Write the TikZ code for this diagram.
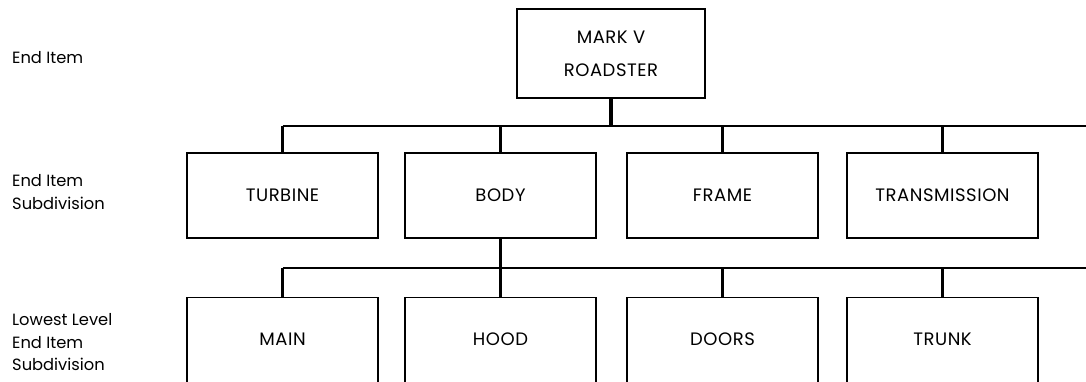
\documentclass[tikz,border=0pt]{standalone}
\usepackage{fontspec}
\setmainfont{Poppins}
\newfontfamily\boxfont[LetterSpace=3]{Poppins}
\begin{document}
\begin{tikzpicture}[x=1pt,y=-1pt,
  box/.style={draw,line width=1.2pt,minimum width=191pt,minimum height=85pt,inner sep=0pt,
    font=\boxfont\fontsize{18}{33}\selectfont},
  lowbox/.style={draw,line width=1.2pt,minimum width=191pt,inner sep=0pt,anchor=north,
    text height=48pt,text depth=55pt,font=\boxfont\fontsize{18}{33}\selectfont},
  conn/.style={line width=2pt},
  drop/.style={line width=2.6pt},
  lvl/.style={anchor=north west,inner sep=0pt,align=left,font=\fontsize{16.3}{22.8}\selectfont}]
\clip (0,0) rectangle (1086,381);
\fill[white] (0,0) rectangle (1086,381);
% level labels
\node[lvl] (l1) at (12,51) {End Item};
\node[lvl] (l2) at (12,174) {End Item\\Subdivision};
\node[lvl] (l3) at (12,313) {Lowest Level\\End Item\\Subdivision};
% boxes
\node[box,minimum width=188pt,minimum height=89pt,align=center] (top) at (611,53.5) {MARK V\\ROADSTER};
\node[box] (turbine) at (282.5,195.5) {TURBINE};
\node[box] (body) at (500.5,195.5) {BODY};
\node[box] (frame) at (722.5,195.5) {FRAME};
\node[box] (trans) at (942.5,195.5) {TRANSMISSION};
\node[lowbox] (main) at (282.5,297) {MAIN};
\node[lowbox] (hood) at (500.5,297) {HOOD};
\node[lowbox] (doors) at (722.5,297) {DOORS};
\node[lowbox] (trunk) at (942.5,297) {TRUNK};
% buses
\coordinate (busA) at (1092,126);
\coordinate (busB) at (1092,268);
\draw[conn] (turbine.north |- busA) -- (busA);
\draw[conn] (main.north |- busB) -- (busB);
% drops
\draw[drop] (turbine.north) -- (turbine.north |- busA);
\draw[drop,line width=3.2pt] (top.south) -- (top.south |- busA);
\draw[drop] (body.north) -- (body.north |- busA);
\draw[drop] (frame.north) -- (frame.north |- busA);
\draw[drop] (trans.north) -- (trans.north |- busA);
\draw[drop] (main.north) -- (main.north |- busB);
\draw[drop] (body.south) -- (hood.north);
\draw[drop] (doors.north) -- (doors.north |- busB);
\draw[drop] (trunk.north) -- (trunk.north |- busB);
\end{tikzpicture}
\end{document}
